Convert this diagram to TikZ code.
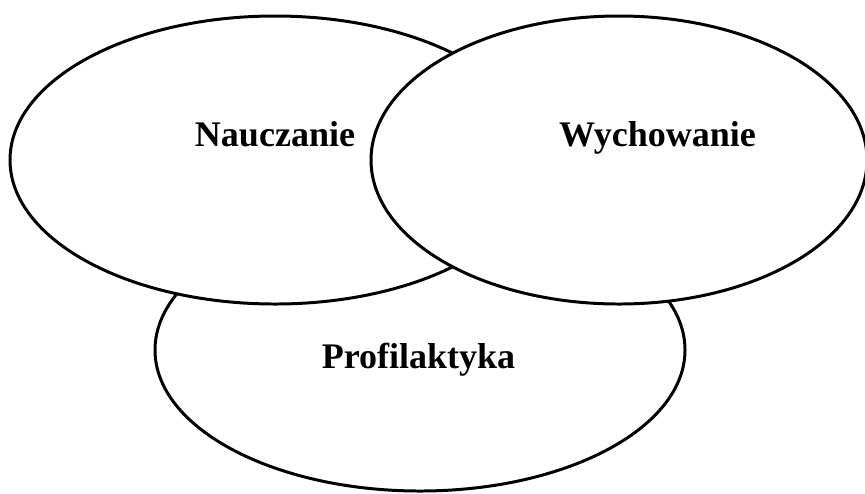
\documentclass[tikz,border=0pt]{standalone}
\usepackage{fontspec}
\setmainfont{Liberation Serif}
\usepackage{tikz}
\usetikzlibrary{shapes.geometric}
\tikzset{
  area/.style={ellipse,draw=black,line width=1.7pt,fill=white,inner sep=0,outer sep=0},
  area text/.style={anchor=base,inner sep=0,font=\fontsize{20.5}{24}\selectfont\bfseries}
}

\begin{document}
\begin{tikzpicture}

\useasboundingbox (0,0) rectangle (17.3,-9.86);

% The ellipses
\node[area, minimum width=10.6cm, minimum height=5.64cm] (profil) at (8.4,-7.0) {};
\node[area, minimum width=10.6cm, minimum height=5.76cm] (naucz) at (5.5,-3.2) {};
\node[area, minimum width=9.92cm, minimum height=5.76cm] (wychow) at (12.38,-3.2) {};

% The labels
\node[area text] (nauczanie) at (5.5,-2.92) {Nauczanie};
\node[area text] (wychowanie) at (13.15,-2.92) {Wychowanie};
\node[area text] (profilaktyka) at (8.37,-7.36) {Profilaktyka};

\end{tikzpicture}
\end{document}
